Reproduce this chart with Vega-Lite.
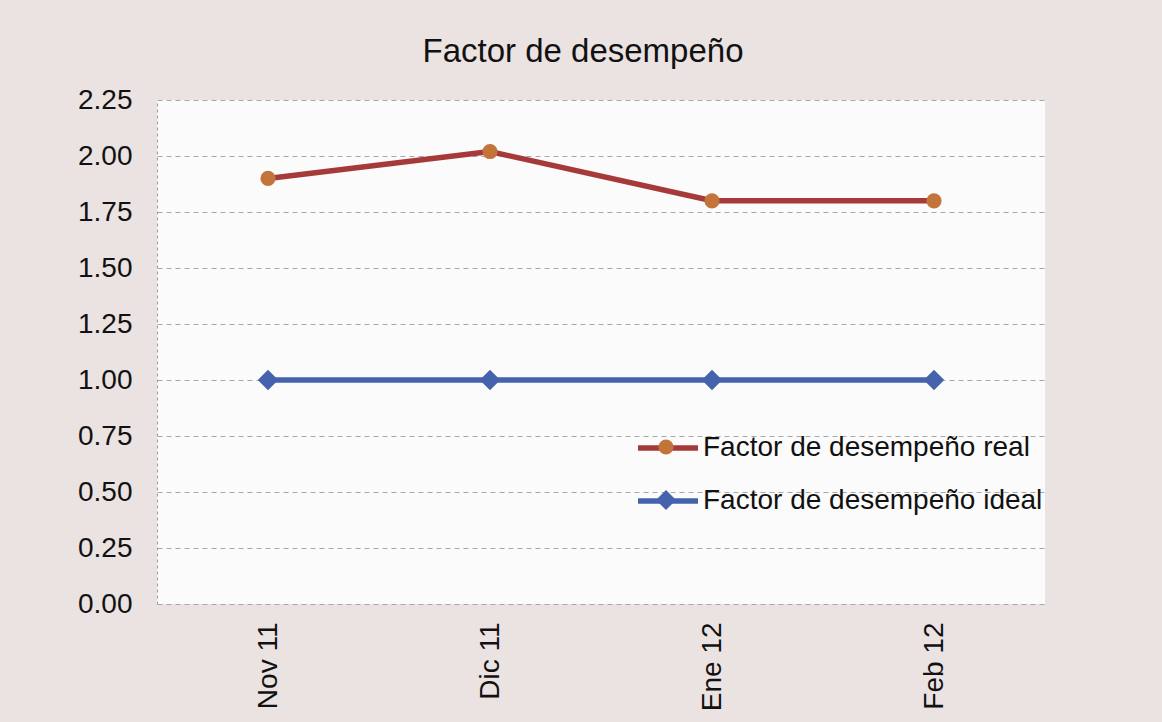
{
  "$schema": "https://vega.github.io/schema/vega-lite/v6.json",
  "width": 888,
  "height": 504,
  "autosize": {"type": "none"},
  "padding": {"left": 157, "top": 100, "right": 117, "bottom": 118},
  "background": "#ebe2e2",
  "title": {
    "text": "Factor de desempeño",
    "anchor": "middle",
    "frame": "group",
    "fontSize": 33,
    "fontWeight": "normal",
    "font": "Liberation Sans",
    "color": "#111111",
    "baseline": "alphabetic",
    "offset": 37,
    "dy": 46,
    "dx": -18
  },
  "config": {
    "view": {"stroke": null, "fill": "#fbfbfb"},
    "font": "Liberation Sans"
  },
  "data": {
    "values": [
      {"mes": "Nov 11", "serie": "Factor de desempeño real", "valor": 1.90},
      {"mes": "Dic 11", "serie": "Factor de desempeño real", "valor": 2.02},
      {"mes": "Ene 12", "serie": "Factor de desempeño real", "valor": 1.80},
      {"mes": "Feb 12", "serie": "Factor de desempeño real", "valor": 1.80},
      {"mes": "Nov 11", "serie": "Factor de desempeño ideal", "valor": 1.00},
      {"mes": "Dic 11", "serie": "Factor de desempeño ideal", "valor": 1.00},
      {"mes": "Ene 12", "serie": "Factor de desempeño ideal", "valor": 1.00},
      {"mes": "Feb 12", "serie": "Factor de desempeño ideal", "valor": 1.00}
    ]
  },
  "encoding": {
    "x": {
      "field": "mes",
      "type": "nominal",
      "sort": ["Nov 11", "Dic 11", "Ene 12", "Feb 12"],
      "scale": {"type": "point", "padding": 0.5},
      "axis": {
        "title": null,
        "labelAngle": -90,
        "labelFontSize": 28,
        "labelColor": "#111111",
        "labelPadding": 18,
        "ticks": false,
        "domain": false,
        "grid": false
      }
    },
    "y": {
      "field": "valor",
      "type": "quantitative",
      "scale": {"domain": [0, 2.25], "nice": false, "zero": true},
      "axis": {
        "title": null,
        "values": [0, 0.25, 0.5, 0.75, 1, 1.25, 1.5, 1.75, 2, 2.25],
        "format": ".2f",
        "labelFontSize": 28,
        "labelColor": "#111111",
        "labelPadding": 25,
        "ticks": false,
        "domain": true,
        "domainColor": "#9a9a9a",
        "domainDash": [3, 3],
        "domainWidth": 1,
        "grid": true,
        "gridColor": "#a8a8a8",
        "gridDash": [5, 4],
        "gridWidth": 1
      }
    }
  },
  "layer": [
    {
      "mark": {"type": "line", "strokeWidth": 5.5},
      "encoding": {
        "stroke": {
          "field": "serie",
          "type": "nominal",
          "scale": {
            "domain": ["Factor de desempeño real", "Factor de desempeño ideal"],
            "range": ["#a63a38", "#4563ad"]
          },
          "legend": {
            "orient": "none",
            "legendX": 478,
            "legendY": 315,
            "title": null,
            "symbolType": "stroke",
            "symbolSize": 3600,
            "symbolStrokeWidth": 5.5,
            "labelFontSize": 28,
            "labelColor": "#111111",
            "labelOffset": 2,
            "labelLimit": 500,
            "rowPadding": 6
          }
        }
      }
    },
    {
      "transform": [{"filter": {"field": "serie", "equal": "Factor de desempeño real"}}],
      "mark": {"type": "point", "filled": true, "opacity": 1, "shape": "circle", "size": 230},
      "encoding": {
        "fill": {
          "field": "serie",
          "type": "nominal",
          "scale": {
            "domain": ["Factor de desempeño real", "Factor de desempeño ideal"],
            "range": ["#c2743a", "#4563ad"]
          },
          "legend": {
            "orient": "top-left",
            "offset": 333,
            "padding": 0,
            "symbolOffset": 162,
            "title": null,
            "symbolSize": 260,
            "symbolStrokeWidth": 0,
            "symbolOpacity": 1,
            "labelFontSize": 28,
            "labelExpr": "' '",
            "labelOpacity": 0,
            "labelOffset": 2,
            "labelLimit": 500,
            "rowPadding": 25,
            "encode": {
              "symbols": {
                "update": {
                  "shape": {"signal": "datum.value === 'Factor de desempeño real' ? 'circle' : 'diamond'"},
                  "size": {"signal": "datum.value === 'Factor de desempeño real' ? 230 : 400"}
                }
              }
            }
          }
        }
      }
    },
    {
      "transform": [{"filter": {"field": "serie", "equal": "Factor de desempeño ideal"}}],
      "mark": {"type": "point", "filled": true, "opacity": 1, "shape": "diamond", "size": 420},
      "encoding": {
        "fill": {
          "field": "serie",
          "type": "nominal"
        }
      }
    }
  ]
}
